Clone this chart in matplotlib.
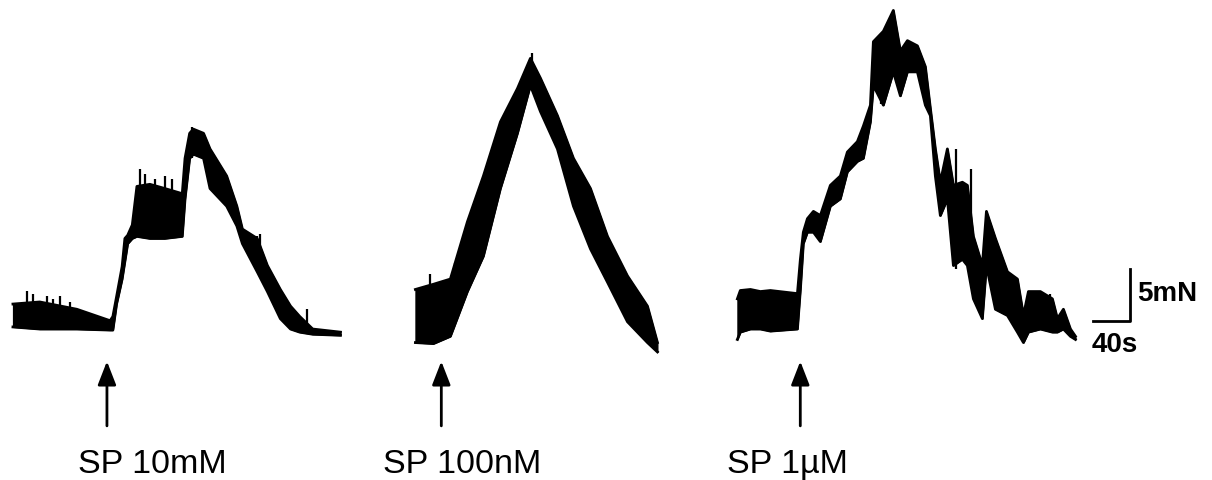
import matplotlib

matplotlib.use("Agg")
import matplotlib.pyplot as plt

plt.rcParams["font.family"] = ["Liberation Sans", "DejaVu Sans"]

# ---- trace 1: SP 10mM (time s from trace start, force mN, upper/lower envelope)
t1 = [0, 29, 69, 105, 108, 112, 118, 121, 124, 129, 134, 148, 164, 183, 186,
      191, 195, 206, 213, 231, 242, 248, 264, 275, 289, 300, 310, 324, 354]
up1 = [2.4, 2.6, 1.9, 0.8, 1.2, 3.1, 6.0, 8.7, 9.0, 10.0, 13.7, 13.9, 13.5, 13.0,
       16.4, 18.8, 19.2, 18.8, 17.3, 14.7, 11.8, 9.6, 8.7, 6.1, 3.8, 2.2, 1.2, 0.0, -0.3]
lo1 = [0.2, 0.0, 0.0, -0.1, -0.1, 2.4, 4.8, 6.5, 8.2, 8.7, 8.9, 8.7, 8.7, 8.9,
       12.5, 16.4, 16.8, 16.4, 13.5, 11.8, 9.9, 8.2, 5.5, 3.6, 1.0, 0.0, -0.3, -0.5, -0.6]
sp1_t = [15, 22, 37, 43, 51, 62, 137, 143, 154, 164, 172, 194, 264, 267, 318]
sp1_hi = [3.7, 3.4, 3.2, 2.9, 3.2, 2.6, 15.4, 14.9, 14.4, 14.7, 14.4, 19.4, 8.9, 9.1, 1.9]
sp1_lo = [0.0, 0.5, 0.5, 0.2, 0.2, 0.2, 9.1, 8.7, 8.7, 8.7, 8.7, 16.4, 6.7, 5.8, 0.0]

# ---- trace 2: SP 100nM
t2 = [0, 19.5, 37.8, 56.2, 73.5, 91.9, 110.3, 124.3, 135.1, 153.5, 170.8, 189.2,
      207.6, 229.2, 250.8, 261.6]
up2 = [3.8, 4.3, 4.8, 10.3, 14.7, 19.9, 23.1, 26.0, 24.1, 20.5, 16.4, 13.5, 8.9,
       5.1, 2.2, -1.3]
lo2 = [-1.3, -1.4, -0.7, 3.6, 7.0, 13.5, 18.8, 23.4, 20.9, 17.3, 11.8, 7.7, 4.5,
       0.7, -1.3, -2.2]
sp2_t = [16, 43, 126]
sp2_hi = [5.3, 6.3, 26.5]
sp2_lo = [0.0, 1.0, 23.1]

# ---- trace 3: SP 1uM
t3 = [0, 3.2, 14.1, 24.9, 35.7, 64.9, 68.1, 71.3, 75.7, 82.2,
      89.7, 100.5, 111.3, 118.9, 129.7, 136.2, 143.8, 147.0, 157.8, 168.6,
      176.2, 183.8, 194.6, 203.2, 208.6, 214.0, 219.4, 227.0, 233.5, 243.2,
      248.6, 255.1, 264.8, 269.2, 278.9, 291.9, 302.7, 309.2, 314.6, 327.5,
      340.5, 345.9, 352.4, 360.0, 365.4]
up3 = [2.9, 3.7, 3.8, 3.6, 3.7, 3.4, 6.7, 9.3, 10.6, 11.3,
       10.9, 13.8, 14.7, 17.0, 18.0, 19.5, 21.5, 27.6, 28.6, 30.6,
       26.7, 27.7, 27.2, 25.2, 21.2, 17.3, 14.1, 17.3, 13.8, 14.1,
       13.8, 8.9, 6.1, 11.3, 8.7, 5.5, 4.8, 1.3, 3.6, 3.6,
       2.9, 1.0, 1.9, 0.0, -0.7]
lo3 = [-1.0, -0.3, 0.0, 0.0, -0.2, 0.0, 3.8, 8.2, 9.3, 9.3,
       8.4, 11.8, 12.5, 15.1, 16.1, 16.4, 19.9, 23.4, 21.5, 24.7,
       22.4, 24.7, 24.7, 21.5, 20.5, 14.7, 10.9, 12.5, 6.1, 6.7,
       6.1, 2.9, 1.0, 6.1, 1.9, 1.3, -0.3, -1.3, -0.3, 0.0,
       -0.3, -0.3, 0.0, -0.7, -1.0]
sp3_t = [155, 236, 252, 338]
sp3_hi = [28.0, 17.3, 15.4, 3.4]
sp3_lo = [21.6, 5.8, 5.8, 0.0]

labels = ["SP 10mM", "SP 100nM", "SP 1\u00b5M"]
stim_t = [101.6, 28.0, 68.0]   # time of SP application, s from trace start

# layout: where each trace starts on the page (s), label offset (s)
offsets = [14, 449, 797]
label_dx = [70, -34.6, -10.8]

traces = [(t1, up1, lo1, sp1_t, sp1_hi, sp1_lo),
          (t2, up2, lo2, sp2_t, sp2_hi, sp2_lo),
          (t3, up3, lo3, sp3_t, sp3_hi, sp3_lo)]

fig = plt.figure(figsize=(12.12, 4.81), dpi=100)
ax = fig.add_axes([0, 0, 1, 1])
ax.set_xlim(0, 1310)
ax.set_ylim(-14.5, 31.7)
ax.axis("off")

for i, (t, up, lo, st, shi, slo) in enumerate(traces):
    x0 = offsets[i]
    tt = [x0 + v for v in t]
    ax.fill_between(tt, lo, up, color="black", lw=0.8)
    ax.plot(tt, up, color="black", lw=2.0)
    ax.plot(tt, lo, color="black", lw=2.0)
    ax.vlines([x0 + v for v in st], slo, shi, color="black", lw=1.6)
    xa = x0 + stim_t[i]
    ax.annotate("", xy=(xa, -3.1), xytext=(xa, -9.3),
                arrowprops=dict(arrowstyle="-|>,head_length=0.9,head_width=0.35",
                                color="black", lw=2, mutation_scale=16,
                                shrinkA=0, shrinkB=0))
    ax.text(x0 + label_dx[i], -13.75, labels[i], fontsize=24.5, ha="left",
            va="baseline", color="black")

# scale bar: 40 s x 5 mN
ax.plot([1181.5, 1221.5, 1221.5], [0.77, 0.77, 5.77], color="black", lw=2)
ax.text(1229, 3.46, "5mN", fontsize=20, fontweight="bold", ha="left", va="center")
ax.text(1180, -1.44, "40s", fontsize=20, fontweight="bold", ha="left", va="center")

fig.savefig("out.png", dpi=100)
